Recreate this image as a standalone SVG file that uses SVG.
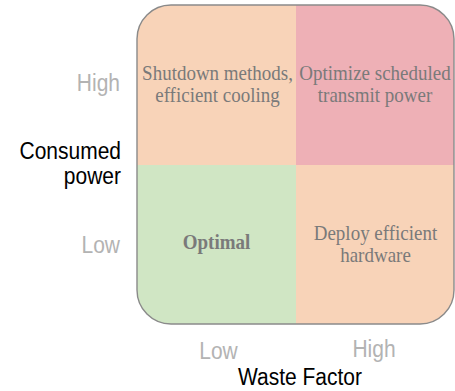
<svg xmlns="http://www.w3.org/2000/svg" width="455" height="391" viewBox="0 0 455 391">
  <style>
    .cell { font-family: "Liberation Serif", "Times New Roman", serif; font-size: 19px; fill: #7a7a7a; text-anchor: middle; }
    .bold { font-weight: bold; }
    .tick { font-family: "Liberation Sans", Arial, sans-serif; font-size: 21px; fill: #b3b3b3; }
    .axis { font-family: "Liberation Sans", Arial, sans-serif; font-size: 21px; fill: #000000; }
  </style>
  <defs>
    <clipPath id="frame">
      <rect x="137" y="5" width="317" height="319" rx="34" ry="34"/>
    </clipPath>
  </defs>

  <!-- quadrant matrix -->
  <g id="matrix">
    <g clip-path="url(#frame)">
      <rect id="q-top-left" x="137" y="5" width="159" height="160" fill="#f8d3b8"/>
      <rect id="q-top-right" x="296" y="5" width="159" height="160" fill="#eeb0b6"/>
      <rect id="q-bottom-left" x="137" y="165" width="159" height="160" fill="#d0e6c4"/>
      <rect id="q-bottom-right" x="296" y="165" width="159" height="160" fill="#f8d3b8"/>
    </g>
    <rect x="137" y="5" width="317" height="319" rx="34" ry="34" fill="none" stroke="#8a8a8a" stroke-width="1.4"/>
  </g>

  <!-- quadrant labels -->
  <g id="label-top-left">
    <text class="cell" transform="translate(217.5,80) scale(1,1.12)">Shutdown methods,</text>
    <text class="cell" transform="translate(217.5,102) scale(1,1.12)">efficient cooling</text>
  </g>
  <g id="label-top-right">
    <text class="cell" transform="translate(375,80) scale(1,1.12)">Optimize scheduled</text>
    <text class="cell" transform="translate(375,102) scale(1,1.12)">transmit power</text>
  </g>
  <g id="label-bottom-left">
    <text class="cell bold" transform="translate(216.5,249) scale(1,1.12)">Optimal</text>
  </g>
  <g id="label-bottom-right">
    <text class="cell" transform="translate(375.5,240) scale(1,1.12)">Deploy efficient</text>
    <text class="cell" transform="translate(375.5,262) scale(1,1.12)">hardware</text>
  </g>

  <!-- vertical axis -->
  <g id="axis-y">
    <text class="tick" text-anchor="end" transform="translate(120,91) scale(1,1.12)">High</text>
    <text class="tick" text-anchor="end" transform="translate(120,253) scale(1,1.12)">Low</text>
    <text class="axis" text-anchor="end" transform="translate(121,159) scale(1,1.12)">Consumed</text>
    <text class="axis" text-anchor="end" transform="translate(121,184) scale(1,1.12)">power</text>
  </g>

  <!-- horizontal axis -->
  <g id="axis-x">
    <text class="tick" text-anchor="middle" transform="translate(218.5,359) scale(1,1.12)">Low</text>
    <text class="tick" text-anchor="middle" transform="translate(374,357) scale(1,1.12)">High</text>
    <text class="axis" text-anchor="middle" transform="translate(300,385) scale(1,1.12)">Waste Factor</text>
  </g>
</svg>
